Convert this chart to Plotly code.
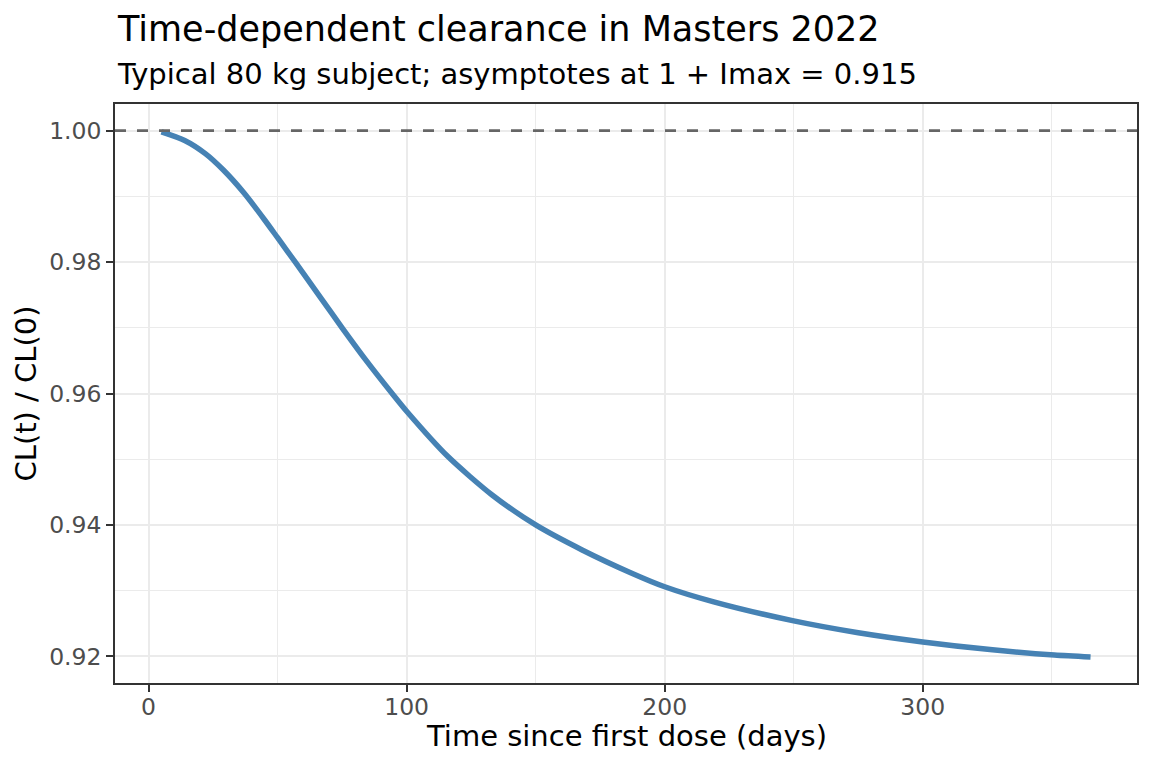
import plotly.graph_objects as go

# Data
time_days = [5, 14, 22, 29, 37, 45, 50, 57, 67, 75, 84, 95, 100, 116, 133, 150,
             168, 187, 200, 219, 250, 275, 300, 327, 351, 365]
cl_ratio = [0.9998, 0.9985, 0.9965, 0.9940, 0.9905, 0.9864, 0.9837, 0.9799,
            0.9744, 0.9700, 0.9652, 0.9597, 0.9573, 0.9504, 0.9446, 0.9400,
            0.9362, 0.9327, 0.9306, 0.9283, 0.9254, 0.9236, 0.9222, 0.9210,
            0.9202, 0.9199]
reference_level = 1.0

x_ticks = [0, 100, 200, 300]
y_ticks = [0.92, 0.94, 0.96, 0.98, 1.00]
y_tick_text = ["0.92", "0.94", "0.96", "0.98", "1.00"]

title_text = "Time-dependent clearance in Masters 2022"
subtitle_text = "Typical 80 kg subject; asymptotes at 1 + Imax = 0.915"
x_title = "Time since first dose (days)"
y_title = "CL(t) / CL(0)"

FONT = "DejaVu Sans"

fig = go.Figure()
fig.add_trace(go.Scatter(
    x=time_days, y=cl_ratio, mode="lines",
    line=dict(color="#4682B4", width=5.5, shape="spline", smoothing=0.7),
    showlegend=False, hoverinfo="x+y",
))

fig.add_shape(type="line", xref="paper", x0=0, x1=1, yref="y",
              y0=reference_level, y1=reference_level,
              line=dict(color="#666666", width=2.8, dash="11px,11px"), layer="above")

W, H = 1152, 768
ml, mr, mt, mb = 115, 15, 104, 85
pw, ph = W - ml - mr, H - mt - mb

def py(pix):
    return (H - mb - pix) / ph

def px(pix):
    return (pix - ml) / pw

axis_common = dict(
    showline=True, linecolor="#333333", linewidth=1.6, mirror=True,
    ticks="outside", ticklen=7, tickwidth=2, tickcolor="#333333",
    showgrid=True, gridcolor="#ebebeb", gridwidth=2.1,
    zeroline=False,
    tickfont=dict(family=FONT, size=23.5, color="#4d4d4d"),
)

fig.update_xaxes(
    range=[-13, 383], tickvals=x_ticks, ticklabelstandoff=-5,
    minor=dict(tickvals=[50, 150, 250, 350], showgrid=True,
               gridcolor="#ebebeb", gridwidth=1.1, ticks=""),
    **axis_common,
)
fig.update_yaxes(
    range=[0.91595, 1.00405], tickvals=y_ticks, ticktext=y_tick_text,
    ticklabelstandoff=0,
    minor=dict(tickvals=[0.93, 0.95, 0.97, 0.99], showgrid=True,
               gridcolor="#ebebeb", gridwidth=1.1, ticks=""),
    **axis_common,
)

annotations = [
    dict(text=title_text, x=0, xref="paper", xanchor="left",
         y=py(29), yref="paper", yanchor="middle", showarrow=False,
         font=dict(family=FONT, size=35, color="#000000")),
    dict(text=subtitle_text, x=0, xref="paper", xanchor="left",
         y=py(74), yref="paper", yanchor="middle", showarrow=False,
         font=dict(family=FONT, size=29, color="#000000")),
    dict(text=x_title, x=0.5, xref="paper", xanchor="center",
         y=py(736), yref="paper", yanchor="middle", showarrow=False,
         font=dict(family=FONT, size=29, color="#000000")),
    dict(text=y_title, x=px(25), xref="paper", xanchor="center",
         y=0.5, yref="paper", yanchor="middle", showarrow=False, textangle=-90,
         font=dict(family=FONT, size=29, color="#000000")),
]

fig.update_layout(
    width=W, height=H,
    margin=dict(l=ml, r=mr, t=mt, b=mb, autoexpand=False),
    paper_bgcolor="white", plot_bgcolor="white",
    font=dict(family=FONT),
    annotations=annotations,
    showlegend=False,
)

fig.write_html(
    "out.html",
    config={"displayModeBar": False},
    post_script="document.body.style.margin='0px';document.body.style.padding='0px';",
)
